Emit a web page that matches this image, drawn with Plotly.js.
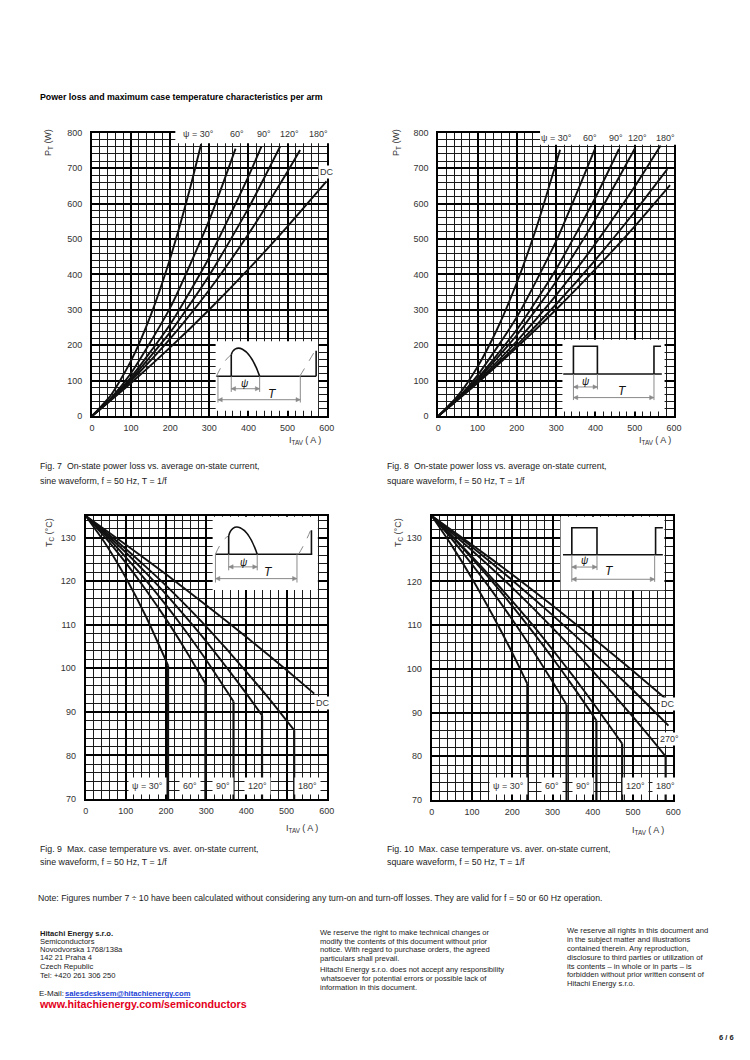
<!DOCTYPE html>
<html><head><meta charset="utf-8">
<script src="https://cdn.plot.ly/plotly-3.0.1.min.js"></script>
<style>html,body{margin:0;padding:0;background:#fff;} #chart{width:750px;height:1060px;}</style>
</head><body><div id="chart"></div>
<script>
// ---------- DATA ----------
// Fig. 7 – on-state power loss P_T (W) vs I_TAV (A), sine waveform
const f7_30_I = [0, 50, 100, 150, 200, 250, 279];
const f7_30_P = [0, 61.6, 156.4, 284.4, 445.6, 640, 768];
const f7_60_I = [0, 50, 100, 200, 300, 367];
const f7_60_P = [0, 52.9, 121.5, 306.1, 553.8, 755];
const f7_90_I = [0, 50, 100, 200, 300, 400, 433];
const f7_90_P = [0, 50, 109.8, 259.2, 448.2, 676.8, 761];
const f7_120_I = [0, 50, 100, 200, 300, 400, 481];
const f7_120_P = [0, 48.5, 104.2, 236.7, 397.6, 586.9, 761];
const f7_180_I = [0, 50, 100, 200, 300, 400, 500, 532];
const f7_180_P = [0, 47.4, 99.6, 218.5, 356.6, 513.9, 690.5, 751];
const f7_DC_I = [0, 100, 200, 300, 400, 500, 600];
const f7_DC_P = [0, 93.4, 193.7, 300.8, 414.7, 535.5, 663];

// Fig. 8 – on-state power loss, square waveform
const f8_30_I = [0, 50, 100, 150, 200, 250, 310];
const f8_30_P = [0, 57.3, 139.2, 245.7, 376.9, 532.6, 752];
const f8_60_I = [0, 50, 100, 200, 300, 399];
const f8_60_P = [0, 51.2, 114.9, 279.5, 493.8, 755];
const f8_90_I = [0, 50, 100, 200, 300, 400, 460];
const f8_90_P = [0, 49, 106.1, 244.3, 414.6, 617.1, 754];
const f8_120_I = [0, 50, 100, 200, 300, 400, 501];
const f8_120_P = [0, 48.1, 102.2, 228.8, 379.8, 555.2, 757];
const f8_180_I = [0, 50, 100, 200, 300, 400, 500, 566];
const f8_180_P = [0, 47, 97.9, 211.7, 341.3, 486.7, 648, 764];
const f8_270_I = [0, 100, 200, 300, 400, 500, 583];
const f8_270_P = [0, 95.1, 200.3, 315.6, 441.1, 576.8, 697];
const f8_DC_I = [0, 100, 200, 300, 400, 500, 590];
const f8_DC_P = [0, 93.4, 193.7, 300.8, 414.7, 535.5, 652];

// Fig. 9 – max. case temperature T_C (°C) vs I_TAV (A), sine waveform
const f9_30_I = [0, 50, 100, 150, 205];
const f9_30_T = [135, 128.5, 120.8, 111.9, 100.7];
const f9_60_I = [0, 50, 100, 150, 200, 250, 298];
const f9_60_T = [135, 129.9, 124.2, 118.0, 111.3, 104.0, 96.5];
const f9_90_I = [0, 50, 100, 150, 200, 250, 300, 368];
const f9_90_T = [135, 130.5, 125.5, 120.2, 114.5, 108.4, 101.9, 92.4];
const f9_120_I = [0, 50, 100, 150, 200, 250, 300, 350, 400, 439];
const f9_120_T = [135, 130.9, 126.6, 121.9, 117.0, 111.7, 106.2, 100.3, 94.2, 89.2];
const f9_180_I = [0, 50, 100, 150, 200, 250, 300, 350, 400, 450, 519];
const f9_180_T = [135, 131.3, 127.4, 123.3, 119.0, 114.4, 109.6, 104.5, 99.2, 93.8, 85.8];
const f9_DC_I = [0, 50, 100, 200, 300, 400, 500, 569];
const f9_DC_T = [135, 131.7, 128.4, 121.6, 114.5, 107.2, 99.6, 94.2];

// Fig. 10 – max. case temperature, square waveform
const f10_30_I = [0, 50, 100, 150, 200, 237.5];
const f10_30_T = [135, 128.2, 120.7, 112.5, 103.7, 96.6];
const f10_60_I = [0, 50, 100, 150, 200, 250, 300, 335];
const f10_60_T = [135, 129.7, 123.9, 117.8, 111.3, 104.4, 97.1, 91.8];
const f10_90_I = [0, 50, 100, 150, 200, 250, 300, 350, 409];
const f10_90_T = [135, 130.3, 125.3, 120.0, 114.4, 108.6, 102.5, 96.1, 88.2];
const f10_120_I = [0, 50, 100, 150, 200, 250, 300, 350, 400, 450, 473];
const f10_120_T = [135, 130.5, 125.7, 120.7, 115.5, 110.1, 104.4, 98.5, 92.3, 85.9, 82.9];
const f10_180_I = [0, 50, 100, 200, 300, 400, 500, 581];
const f10_180_T = [135, 131.1, 127.1, 118.6, 109.4, 99.5, 89.0, 80.0];
const f10_270_I = [0, 50, 100, 200, 300, 400, 500, 588];
const f10_270_T = [135, 131.5, 127.9, 120.3, 112.3, 103.9, 95.1, 87.0];
const f10_DC_I = [0, 50, 100, 200, 300, 400, 500, 582];
const f10_DC_T = [135, 131.7, 128.4, 121.6, 114.5, 107.1, 99.5, 93.1];

// curve labels
const sineLabels = ['ψ = 30°', '60°', '90°', '120°', '180°'];
const squareExtra = ['270°', 'DC'];

// ---------- STYLE / LAYOUT ----------
const FONT = 'Liberation Sans, Arial, sans-serif';
const W = 750, H = 1060;
const px = x => x / W, py = y => 1 - y / H;

// font size that makes a text span a given pixel width
const cv = document.createElement('canvas').getContext('2d');
function fit(text, width, bold) {
  cv.font = (bold ? 'bold ' : '') + '20px "Liberation Sans", Arial, sans-serif';
  return Math.round(20 * width / cv.measureText(text).width * 10) / 10;
}

const D7 = {x: [px(92), px(326.7)], y: [py(416), py(132.7)]};
const D8 = {x: [px(438.3), px(674)], y: [py(416), py(132.7)]};
const D9 = {x: [px(85.7), px(326.7)], y: [py(799), py(515.9)]};
const D10 = {x: [px(431.7), px(673.3)], y: [py(800), py(515.9)]};

function xax(dom, anchor) {
  return {domain: dom.x, range: [0, 600], dtick: 100, tick0: 0, anchor: anchor,
    showgrid: true, gridcolor: '#000', gridwidth: 2,
    minor: {dtick: 20, tick0: 0, showgrid: true, gridcolor: '#1a1a1a', gridwidth: 1, ticks: ''},
    showline: true, mirror: true, linecolor: '#000', linewidth: 2, zeroline: false,
    ticks: '', ticklabelstandoff: 2, tickfont: {family: FONT, size: 9, color: '#333'}, fixedrange: true};
}
function yax(dom, anchor, range, dtick, minor, tick0) {
  return {domain: dom.y, range: range, dtick: dtick, tick0: tick0, anchor: anchor,
    showgrid: true, gridcolor: '#000', gridwidth: 2,
    minor: {dtick: minor, tick0: tick0, showgrid: true, gridcolor: '#1a1a1a', gridwidth: 1, ticks: ''},
    showline: true, mirror: true, linecolor: '#000', linewidth: 2, zeroline: false,
    ticks: '', ticklabelstandoff: 6, tickfont: {family: FONT, size: 9, color: '#333'}, fixedrange: true};
}

const traces = [];
function curve(xs, ys, xa, ya, shape) {
  traces.push({x: xs, y: ys, xaxis: xa, yaxis: ya, mode: 'lines', hoverinfo: 'skip', showlegend: false,
    line: {color: '#111', width: 1.9, shape: shape || 'spline', smoothing: 0.6}});
}
function drop(xs, ys, xa, ya) {
  const n = xs.length - 1;
  traces.push({x: [xs[n], xs[n]], y: [ys[n], 70], xaxis: xa, yaxis: ya, mode: 'lines', hoverinfo: 'skip',
    showlegend: false, line: {color: '#111', width: 2.2}});
}

curve(f7_30_I, f7_30_P, 'x', 'y'); curve(f7_60_I, f7_60_P, 'x', 'y'); curve(f7_90_I, f7_90_P, 'x', 'y');
curve(f7_120_I, f7_120_P, 'x', 'y'); curve(f7_180_I, f7_180_P, 'x', 'y'); curve(f7_DC_I, f7_DC_P, 'x', 'y');

curve(f8_30_I, f8_30_P, 'x2', 'y2'); curve(f8_60_I, f8_60_P, 'x2', 'y2'); curve(f8_90_I, f8_90_P, 'x2', 'y2');
curve(f8_120_I, f8_120_P, 'x2', 'y2'); curve(f8_180_I, f8_180_P, 'x2', 'y2');
curve(f8_270_I, f8_270_P, 'x2', 'y2'); curve(f8_DC_I, f8_DC_P, 'x2', 'y2');

[[f9_30_I, f9_30_T], [f9_60_I, f9_60_T], [f9_90_I, f9_90_T], [f9_120_I, f9_120_T], [f9_180_I, f9_180_T]]
  .forEach(c => { curve(c[0], c[1], 'x3', 'y3'); drop(c[0], c[1], 'x3', 'y3'); });
curve(f9_DC_I, f9_DC_T, 'x3', 'y3');

[[f10_30_I, f10_30_T], [f10_60_I, f10_60_T], [f10_90_I, f10_90_T], [f10_120_I, f10_120_T], [f10_180_I, f10_180_T]]
  .forEach(c => { curve(c[0], c[1], 'x4', 'y4'); drop(c[0], c[1], 'x4', 'y4'); });
curve(f10_270_I, f10_270_T, 'x4', 'y4'); curve(f10_DC_I, f10_DC_T, 'x4', 'y4');

// ---------- shapes ----------
const shapes = [];
function toPaper(D, xr, yr, a, v) {
  return [D.x[0] + (a - xr[0]) / (xr[1] - xr[0]) * (D.x[1] - D.x[0]),
          D.y[0] + (v - yr[0]) / (yr[1] - yr[0]) * (D.y[1] - D.y[0])];
}
function paperRect(D, yr, a0, a1, v0, v1) {
  const p0 = toPaper(D, [0, 600], yr, a0, v0), p1 = toPaper(D, [0, 600], yr, a1, v1);
  shapes.push({type: 'rect', xref: 'paper', yref: 'paper', x0: p0[0], x1: p1[0], y0: p0[1], y1: p1[1],
    fillcolor: '#fff', line: {width: 0}, layer: 'above'});
}
// white label bands at the top of Fig. 7 / 8
paperRect(D7, [0, 800], 213, 607, 770, 812);
paperRect(D8, [0, 800], 259, 607, 766, 812);

function rect(xa, ya, x0, x1, y0, y1) {
  shapes.push({type: 'rect', xref: xa, yref: ya, x0, x1, y0, y1, fillcolor: '#fff', line: {width: 0}, layer: 'above'});
}
function seg(xa, ya, x0, y0, x1, y1, col, w, dash) {
  shapes.push({type: 'line', xref: xa, yref: ya, x0, y0, x1, y1, layer: 'above',
    line: {color: col || '#111', width: w || 1.5, dash: dash || 'solid'}});
}
function path(xa, ya, d, col, w, dash, fill) {
  shapes.push({type: 'path', xref: xa, yref: ya, path: d, layer: 'above', fillcolor: fill || 'rgba(0,0,0,0)',
    line: {color: col || '#111', width: w || 1.6, dash: dash || 'solid'}});
}
const G = '#8a8a8a';
// double-headed dimension arrow; hl = head length (A), hh = head half-height (y units)
function darrow(xa, ya, x0, x1, y, hh) {
  const hl = 11;
  seg(xa, ya, x0, y, x1, y, G, 1);
  path(xa, ya, `M ${x0},${y} L ${x0 + hl},${y + hh} L ${x0 + hl},${y - hh} Z`, G, 0.5, 'solid', G);
  path(xa, ya, `M ${x1},${y} L ${x1 - hl},${y + hh} L ${x1 - hl},${y - hh} Z`, G, 0.5, 'solid', G);
}
// Fig. 7 inset (sine)
rect('x', 'y', 316, 578, 15, 211);
seg('x', 'y', 318, 112, 573, 112);
path('x', 'y', 'M 318,112 Q 338,160 356,173', G, 1, 'dash');
seg('x', 'y', 356, 112, 356, 173, '#111', 1.6);
path('x', 'y', 'M 356,173 C 364,204 400,204 428.6,112');
path('x', 'y', 'M 531,112 Q 552,150 569,182', G, 1, 'dash');
seg('x', 'y', 573, 112, 573, 184, '#111', 1.6);
seg('x', 'y', 322, 112, 322, 38, G, 1); seg('x', 'y', 356, 112, 356, 68, G, 1);
seg('x', 'y', 428.6, 112, 428.6, 68, G, 1); seg('x', 'y', 532.5, 112, 532.5, 38, G, 1);
darrow('x', 'y', 356, 428.6, 77, 6); darrow('x', 'y', 322, 532.5, 46, 6);
// Fig. 8 inset (square)
rect('x2', 'y2', 316, 576, 13, 215);
seg('x2', 'y2', 318, 118.6, 569, 118.6);
path('x2', 'y2', 'M 344,118.6 L 344,197 L 405,197 L 405,118.6');
path('x2', 'y2', 'M 549,118.6 L 549,197 L 567,197');
seg('x2', 'y2', 344, 118.6, 344, 45, G, 1); seg('x2', 'y2', 405, 118.6, 405, 75, G, 1);
seg('x2', 'y2', 549, 118.6, 549, 45, G, 1);
darrow('x2', 'y2', 344, 405, 82, 6); darrow('x2', 'y2', 344, 549, 52, 6);
// Fig. 9 inset (sine)
rect('x3', 'y3', 316, 578, 118, 134.8);
seg('x3', 'y3', 323, 126.2, 564, 126.2);
path('x3', 'y3', 'M 323,126.2 Q 340,129.8 356,130.4', G, 1, 'dash');
seg('x3', 'y3', 356, 126.2, 356, 130.4, '#111', 1.6);
path('x3', 'y3', 'M 356,130.4 C 364,133.6 400,133.6 427,126.2');
path('x3', 'y3', 'M 530,126.2 Q 548,129 559,131.5', G, 1, 'dash');
seg('x3', 'y3', 562, 126.2, 562, 131.7, '#111', 1.6);
seg('x3', 'y3', 323, 126.2, 323, 119.7, G, 1); seg('x3', 'y3', 356, 126.2, 356, 122.5, G, 1);
seg('x3', 'y3', 427, 126.2, 427, 122.5, G, 1); seg('x3', 'y3', 526, 126.2, 526, 119.7, G, 1);
darrow('x3', 'y3', 356, 427, 123.3, 0.5); darrow('x3', 'y3', 323, 526, 120.6, 0.5);
// Fig. 10 inset (square)
rect('x4', 'y4', 320, 578, 118, 134.8);
seg('x4', 'y4', 326, 126.1, 574, 126.1);
path('x4', 'y4', 'M 348,126.1 L 348,132.3 L 410.5,132.3 L 410.5,126.1');
path('x4', 'y4', 'M 556,126.1 L 556,132.3 L 574,132.3');
seg('x4', 'y4', 348, 126.1, 348, 119.9, G, 1); seg('x4', 'y4', 410.5, 126.1, 410.5, 122.6, G, 1);
seg('x4', 'y4', 553.7, 126.1, 553.7, 119.9, G, 1);
darrow('x4', 'y4', 348, 410.5, 123.3, 0.5); darrow('x4', 'y4', 348, 553.7, 120.5, 0.5);

// ---------- annotations ----------
const ann = [];
function T(text, x, y, size, opts) {
  ann.push(Object.assign({text, xref: 'paper', yref: 'paper', x: px(x), y: py(y), xanchor: 'left', yanchor: 'middle',
    showarrow: false, font: {family: FONT, size: size || 8, color: '#1a1a1a'}}, opts || {}));
}
function L(text, xa, ya, x, y, opts) {
  ann.push(Object.assign({text, xref: xa, yref: ya, x, y, xanchor: 'center', yanchor: 'middle', showarrow: false,
    bgcolor: '#fff', borderpad: 1, font: {family: FONT, size: 9, color: '#333'}}, opts || {}));
}
function greek(text, xa, ya, x, y, size) {
  ann.push({text: '<i>' + text + '</i>', xref: xa, yref: ya, x, y, showarrow: false, xanchor: 'center', yanchor: 'middle',
    font: {family: FONT, size: size, color: '#111'}});
}

// curve labels
const f7lx = [272, 371, 440, 505, 580];
sineLabels.forEach((t, i) => L(t, 'x', 'y', f7lx[i], 797, {bgcolor: 'rgba(0,0,0,0)'}));
L('DC', 'x', 'y', 600, 690);
const f8lx = [300, 386, 452, 506, 578];
sineLabels.forEach((t, i) => L(t, 'x2', 'y2', f8lx[i], 784, {bgcolor: 'rgba(0,0,0,0)'}));
L(squareExtra[0], 'x2', 'y2', 604, 716); L(squareExtra[1], 'x2', 'y2', 608, 666);
const f9lx = [153, 260, 343, 428, 553];
sineLabels.forEach((t, i) => L(t, 'x3', 'y3', f9lx[i], 73, {borderpad: 3}));
L('DC', 'x3', 'y3', 590, 92);
const f10lx = [190, 299, 375, 506, 581];
sineLabels.forEach((t, i) => L(t, 'x4', 'y4', f10lx[i], 73.2, {borderpad: 3}));
L(squareExtra[1], 'x4', 'y4', 588, 92); L(squareExtra[0], 'x4', 'y4', 590, 84);

// inset symbols
greek('ψ', 'x', 'y', 392, 92, 10); greek('T', 'x', 'y', 462, 63, 12);
greek('ψ', 'x2', 'y2', 375, 98, 10); greek('T', 'x2', 'y2', 468, 70, 12);
greek('ψ', 'x3', 'y3', 393, 124.4, 10); greek('T', 'x3', 'y3', 456, 122.1, 12);
greek('ψ', 'x4', 'y4', 380, 124.7, 10); greek('T', 'x4', 'y4', 442, 122.3, 12);

// axis titles
const axT = {font: {family: FONT, size: 9, color: '#333'}, xanchor: 'center'};
T('P<sub>T</sub> (W)', 48, 143, 9, Object.assign({}, axT, {textangle: -90}));
T('I<sub>TAV</sub> ( A )', 305, 441, 9, axT);
T('P<sub>T</sub> (W)', 396, 143, 9, Object.assign({}, axT, {textangle: -90}));
T('I<sub>TAV</sub> ( A )', 655, 441, 9, axT);
T('T<sub>C</sub> (°C)', 49, 532, 9, Object.assign({}, axT, {textangle: -90}));
T('I<sub>TAV</sub> ( A )', 302, 828, 9, axT);
T('T<sub>C</sub> (°C)', 398, 532, 9, Object.assign({}, axT, {textangle: -90}));
T('I<sub>TAV</sub> ( A )', 648, 830, 9, axT);

// page texts (sizes fitted to widths measured on the reference)
const titleTxt = 'Power loss and maximum case temperature characteristics per arm';
const sTitle = fit(titleTxt, 283, true);
T('<b>' + titleTxt + '</b>', 38, 97, sTitle, {font: {family: FONT, size: sTitle, color: '#000'}});
const cap7 = 'Fig. 7  On-state power loss vs. average on-state current,';
const sCap = fit(cap7, 220);
T(cap7, 38, 466, sCap);
T('sine waveform, f = 50 Hz, T = 1/f', 38, 481, sCap);
T('Fig. 8  On-state power loss vs. average on-state current,', 385, 466, sCap);
T('square waveform, f = 50 Hz, T = 1/f', 385, 481, sCap);
T('Fig. 9  Max. case temperature vs. aver. on-state current,', 38, 849, sCap);
T('sine waveform, f = 50 Hz, T = 1/f', 38, 862, sCap);
T('Fig. 10  Max. case temperature vs. aver. on-state current,', 385, 849, sCap);
T('square waveform, f = 50 Hz, T = 1/f', 385, 862, sCap);
const sNote = fit('Note: Figures number 7 ÷ 10 have been calculated without considering any turn-on and turn', 354);
T('Note: Figures number 7 ÷ 10 have been calculated without considering any turn-on and turn-off losses. They are valid for f = 50 or 60 Hz operation.', 36, 898, sNote);

// footer
const fs = fit('Novodvorska 1768/138a', 82);
T('<b>Hitachi Energy s.r.o.</b>', 38, 933, fs);
T('Semiconductors', 38, 941, fs);
T('Novodvorska 1768/138a', 38, 949, fs);
T('142 21 Praha 4', 38, 957.5, fs);
T('Czech Republic', 38, 966, fs);
T('Tel: +420 261 306 250', 38, 975, fs);
T('E-Mail:', 36.5, 993, fit('E-Mail:', 25));
const sMail = fit('salesdesksem@hitachienergy.com', 125, true);
T('<b>salesdesksem@hitachienergy.com</b>', 63, 993, sMail, {font: {family: FONT, size: sMail, color: '#1a3fd6', lineposition: 'under'}});
const www = 'www.hitachienergy.com/semiconductors';
const sW = fit(www, 206, true);
T('<b>' + www + '</b>', 36.7, 1004, sW, {font: {family: FONT, size: sW, color: '#e3001b'}});

T('We reserve the right to make technical changes or', 318, 932, fs);
T('modify the contents of this document without prior', 318, 941, fs);
T('notice. With regard to purchase orders, the agreed', 318, 949.5, fs);
T('particulars shall prevail.', 318, 958, fs);
T('Hitachi Energy s.r.o. does not accept any responsibility', 318, 969, fs);
T('whatsoever for potential errors or possible lack of', 318, 978, fs);
T('information in this document.', 318, 987, fs);

T('We reserve all rights in this document and', 565, 930, fs);
T('in the subject matter and illustrations', 565, 939, fs);
T('contained therein. Any reproduction,', 565, 948, fs);
T('disclosure to third parties or utilization of', 565, 957, fs);
T('its contents – in whole or in parts – is', 565, 966, fs);
T('forbidden without prior written consent of', 565, 974.5, fs);
T('Hitachi Energy s.r.o.', 565, 983, fs);
T('<b>6 / 6</b>', 736, 1037, 7.5, {xanchor: 'right'});

const layout = {
  width: W, height: H, margin: {l: 0, r: 0, t: 0, b: 0},
  paper_bgcolor: '#fff', plot_bgcolor: '#fff', showlegend: false,
  xaxis: xax(D7, 'y'), yaxis: yax(D7, 'x', [0, 800], 100, 20, 0),
  xaxis2: xax(D8, 'y2'), yaxis2: yax(D8, 'x2', [0, 800], 100, 20, 0),
  xaxis3: xax(D9, 'y3'), yaxis3: yax(D9, 'x3', [70, 135], 10, 2, 70),
  xaxis4: xax(D10, 'y4'), yaxis4: yax(D10, 'x4', [70, 135], 10, 2, 70),
  shapes: shapes, annotations: ann
};
Plotly.newPlot('chart', traces, layout, {staticPlot: true, displayModeBar: false});
</script></body></html>
